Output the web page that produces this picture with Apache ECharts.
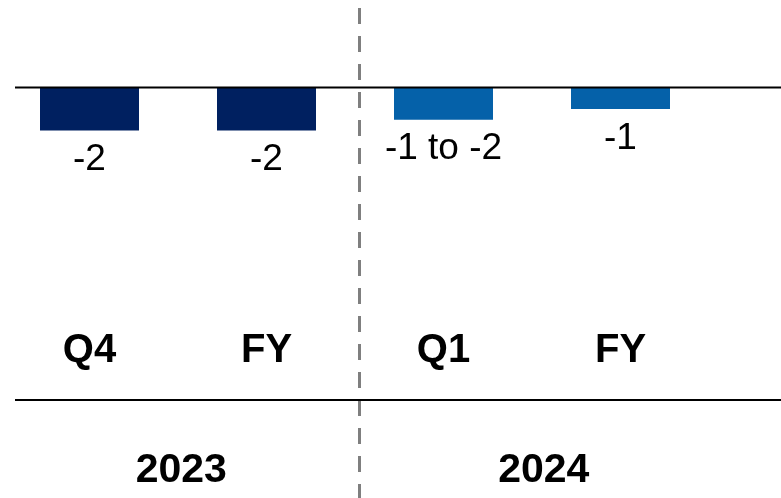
<!DOCTYPE html>
<html>
<head>
<meta charset="utf-8">
<script src="https://cdn.jsdelivr.net/npm/echarts@6/dist/echarts.min.js"></script>
<style>
  html, body { margin: 0; padding: 0; background: #fff; }
  #chart { width: 781px; height: 498px; }
</style>
</head>
<body>
<div id="chart"></div>
<script>
// 数据
const periods = ['Q4', 'FY', 'Q1', 'FY'];
const periodYears = ['2023', '2023', '2024', '2024'];
const years = ['2023', '2024'];
const values = [-2, -2, -1.5, -1];
const valueLabels = ['-2', '-2', '-1 to -2', '-1'];

const yearColors = { '2023': '#002060', '2024': '#0561a9' };
const font = '"Liberation Sans", Arial, sans-serif';

const chart = echarts.init(document.getElementById('chart'));

chart.setOption({
    backgroundColor: '#fff',
    animation: false,
    grid: [
        { left: 1, width: 708, top: 87.5, height: 215 },
        { left: 0, width: 725, top: 87.5, height: 215 }
    ],
    xAxis: [
        {
            type: 'category',
            gridIndex: 0,
            data: periods,
            axisLine: { show: false },
            axisTick: { show: false },
            axisLabel: {
                margin: 28,
                color: '#000',
                fontFamily: font,
                fontWeight: 'bold',
                fontSize: 40,
                lineHeight: 40
            }
        },
        {
            type: 'category',
            gridIndex: 1,
            data: years,
            axisLine: { show: false },
            axisTick: { show: false },
            axisLabel: {
                margin: 148,
                color: '#000',
                fontFamily: font,
                fontWeight: 'bold',
                fontSize: 41,
                lineHeight: 41
            }
        }
    ],
    yAxis: [
        { type: 'value', gridIndex: 0, min: -10, max: 0, show: false },
        { type: 'value', gridIndex: 1, min: -10, max: 0, show: false }
    ],
    series: [{
        type: 'bar',
        xAxisIndex: 0,
        yAxisIndex: 0,
        barWidth: 99,
        data: values,
        itemStyle: {
            color: (p) => yearColors[periodYears[p.dataIndex]]
        },
        label: {
            show: true,
            position: 'bottom',
            distance: 11,
            color: '#000',
            fontFamily: font,
            fontSize: 37,
            lineHeight: 37,
            formatter: (p) => valueLabels[p.dataIndex]
        }
    }],
    graphic: [
        // 零线
        { type: 'line', shape: { x1: 15, y1: 87.5, x2: 781, y2: 87.5 }, style: { stroke: '#000', lineWidth: 2 }, z: 10 },
        // 分隔线
        { type: 'line', shape: { x1: 15, y1: 400, x2: 781, y2: 400 }, style: { stroke: '#000', lineWidth: 2 }, z: 10 },
        // 年份分隔虚线
        { type: 'line', shape: { x1: 359.5, y1: 8, x2: 359.5, y2: 498 }, style: { stroke: '#7f7f7f', lineWidth: 3, lineDash: [16, 12] }, z: 9 }
    ]
});
</script>
</body>
</html>
